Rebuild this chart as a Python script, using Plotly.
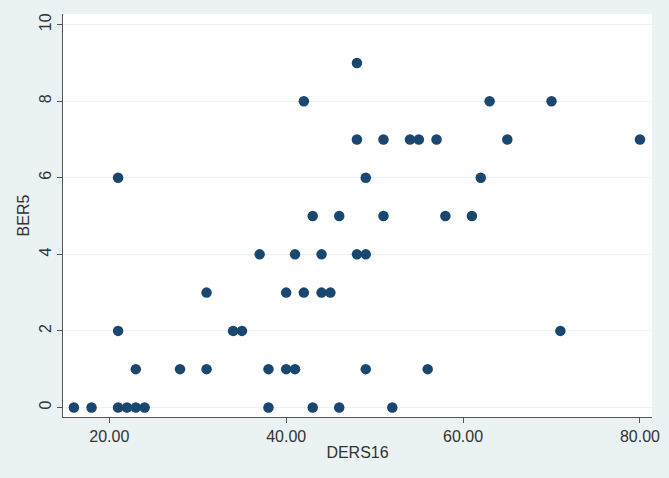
import plotly.graph_objects as go

ders16 = [16, 18, 21, 22, 23, 24, 38, 43, 46, 52,
          23, 28, 31, 38, 40, 41, 49, 56,
          21, 34, 35, 71,
          31, 40, 42, 44, 45,
          37, 41, 44, 48, 49,
          43, 46, 51, 58, 61,
          21, 49, 62,
          48, 51, 54, 55, 57, 65, 80,
          42, 63, 70,
          48]
ber5 = [0, 0, 0, 0, 0, 0, 0, 0, 0, 0,
        1, 1, 1, 1, 1, 1, 1, 1,
        2, 2, 2, 2,
        3, 3, 3, 3, 3,
        4, 4, 4, 4, 4,
        5, 5, 5, 5, 5,
        6, 6, 6,
        7, 7, 7, 7, 7, 7, 7,
        8, 8, 8,
        9]
x_ticks = [20, 40, 60, 80]
x_tick_labels = ["20.00", "40.00", "60.00", "80.00"]
y_ticks = [0, 2, 4, 6, 8, 10]

fig = go.Figure()
fig.add_trace(go.Scatter(
    x=ders16, y=ber5, mode="markers",
    marker=dict(size=10.5, color="#1a476f", line=dict(width=0)),
    showlegend=False,
))

font = dict(family="Liberation Sans, Arial, sans-serif", size=16, color="#333333")
fig.update_layout(
    width=669, height=478,
    margin=dict(l=63, r=17, t=14, b=61, autoexpand=False),
    paper_bgcolor="#eaf2f3",
    plot_bgcolor="#ffffff",
    font=font,
    xaxis=dict(
        range=[14.77, 81.36], tickvals=x_ticks, ticktext=x_tick_labels,
        showgrid=False, zeroline=False, showline=True, linecolor="#555555",
        linewidth=1, ticks="outside", ticklen=5, tickcolor="#555555",
        automargin=False,
        title=dict(text="DERS16", standoff=2, font=font), tickfont=font,
    ),
    yaxis=dict(
        range=[-0.25, 10.28], tickvals=y_ticks, tickangle=-90,
        showgrid=True, gridcolor="#eaf2f3", gridwidth=1,
        zeroline=False, showline=True, linecolor="#555555",
        linewidth=1, ticks="outside", ticklen=5, tickcolor="#555555",
        automargin=False,
        title=dict(text="BER5", standoff=2, font=font), tickfont=font,
    ),
)

fig.write_html("out.html")
